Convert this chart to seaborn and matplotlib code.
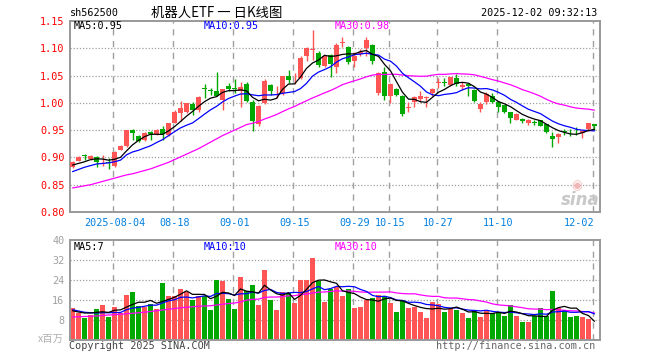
import numpy as np
import pandas as pd
import matplotlib
matplotlib.use("Agg")
import matplotlib.pyplot as plt
import seaborn as sns

# ---------------- data ----------------
open_ = [0.882, 0.894, 0.905, 0.897, 0.901, 0.888, 0.891, 0.884, 0.914, 0.921,
         0.950, 0.940, 0.932, 0.946, 0.943, 0.952, 0.941, 0.964, 0.982, 0.983,
         0.998, 0.986, 1.027, 1.023, 1.022, 1.005, 1.031, 1.027, 1.021, 1.035,
         1.002, 0.961, 0.999, 1.033, 1.019, 1.018, 1.049, 1.041, 1.045, 1.086,
         1.097, 1.092, 1.068, 1.088, 1.065, 1.110, 1.103, 1.076, 1.090, 1.100,
         1.106, 1.018, 1.057, 1.012, 1.025, 1.013, 0.991, 1.001, 1.007, 1.009,
         1.018, 1.037, 1.037, 1.033, 1.045, 1.029, 1.035, 1.024, 0.988, 1.001,
         1.013, 1.001, 0.996, 0.983, 0.969, 0.971, 0.964, 0.965, 0.968, 0.961,
         0.940, 0.938, 0.948, 0.945, 0.945, 0.944, 0.952, 0.961]
high = [0.893, 0.902, 0.907, 0.904, 0.902, 0.904, 0.899, 0.911, 0.922, 0.951,
        0.952, 0.941, 0.946, 0.949, 0.952, 0.958, 0.964, 0.987, 1.003, 1.000,
        1.002, 1.012, 1.035, 1.027, 1.056, 1.026, 1.036, 1.043, 1.039, 1.039,
        1.005, 0.996, 1.043, 1.035, 1.030, 1.050, 1.060, 1.055, 1.085, 1.103,
        1.133, 1.095, 1.088, 1.090, 1.109, 1.120, 1.104, 1.094, 1.098, 1.121,
        1.107, 1.057, 1.065, 1.036, 1.027, 1.014, 1.002, 1.013, 1.021, 1.012,
        1.027, 1.045, 1.045, 1.048, 1.052, 1.039, 1.036, 1.025, 1.001, 1.019,
        1.018, 1.002, 0.996, 0.984, 0.981, 0.972, 0.970, 0.969, 0.969, 0.962,
        0.947, 0.944, 0.952, 0.952, 0.955, 0.950, 0.964, 0.962]
low = [0.880, 0.893, 0.895, 0.896, 0.882, 0.884, 0.879, 0.883, 0.913, 0.920,
       0.932, 0.928, 0.931, 0.932, 0.942, 0.932, 0.940, 0.963, 0.966, 0.982,
       0.978, 0.984, 1.009, 1.014, 1.012, 0.987, 1.021, 1.018, 0.992, 1.002,
       0.948, 0.958, 0.998, 1.015, 1.009, 1.015, 1.036, 1.035, 1.043, 1.076,
       1.079, 1.066, 1.066, 1.047, 1.054, 1.103, 1.071, 1.066, 1.085, 1.085,
       1.072, 1.015, 1.005, 0.999, 1.013, 0.976, 0.983, 0.992, 1.002, 0.992,
       1.013, 1.027, 1.030, 1.030, 1.031, 1.024, 1.013, 1.001, 0.984, 0.998,
       0.999, 0.984, 0.981, 0.964, 0.968, 0.964, 0.960, 0.960, 0.957, 0.945,
       0.919, 0.926, 0.941, 0.940, 0.941, 0.935, 0.949, 0.951]
close = [0.891, 0.900, 0.902, 0.903, 0.891, 0.889, 0.890, 0.910, 0.921, 0.950,
         0.944, 0.931, 0.944, 0.943, 0.950, 0.943, 0.963, 0.983, 0.990, 0.999,
         0.986, 1.010, 1.026, 1.022, 1.013, 1.025, 1.026, 1.026, 1.029, 1.004,
         0.966, 0.994, 1.040, 1.021, 1.020, 1.049, 1.042, 1.042, 1.083, 1.100,
         1.098, 1.069, 1.086, 1.072, 1.106, 1.111, 1.074, 1.085, 1.094, 1.115,
         1.077, 1.055, 1.012, 1.035, 1.015, 0.980, 0.992, 1.010, 1.013, 1.010,
         1.026, 1.038, 1.036, 1.047, 1.035, 1.032, 1.030, 1.004, 0.998, 1.016,
         1.001, 0.993, 0.983, 0.972, 0.980, 0.966, 0.969, 0.964, 0.958, 0.947,
         0.934, 0.943, 0.947, 0.944, 0.944, 0.949, 0.963, 0.957]
volume = [13.0, 10.8, 9.0, 10.1, 12.5, 14.1, 9.4, 13.4, 10.8, 18.1,
          19.4, 13.8, 13.4, 14.5, 12.4, 23.0, 17.8, 17.8, 20.6, 19.1,
          16.0, 17.8, 17.6, 12.1, 24.1, 23.7, 16.5, 12.5, 25.3, 19.7,
          22.2, 14.1, 28.1, 16.1, 12.1, 19.3, 18.8, 14.9, 24.1, 24.1,
          32.8, 23.7, 15.4, 20.4, 21.1, 17.8, 20.5, 13.0, 13.4, 16.1,
          17.0, 18.1, 17.7, 15.0, 11.4, 16.1, 13.0, 13.4, 11.4, 8.9,
          15.4, 14.5, 11.4, 12.5, 12.1, 11.0, 9.0, 12.1, 9.4, 11.7,
          10.8, 11.4, 9.8, 14.1, 9.8, 7.4, 7.4, 9.7, 12.9, 9.7,
          19.7, 12.8, 12.1, 9.4, 9.7, 9.2, 8.5, 0.5]

# moving-average values before a full window exists
ma5_head = [0.886, 0.889, 0.892, 0.896]
ma10_head = [0.874, 0.878, 0.882, 0.885, 0.888, 0.889, 0.890, 0.892, 0.895]
ma30_head = [0.844, 0.846, 0.848, 0.850, 0.853, 0.856, 0.859, 0.862, 0.865, 0.868,
             0.870, 0.873, 0.876, 0.879, 0.883, 0.887, 0.891, 0.896, 0.901, 0.906,
             0.911, 0.916, 0.922, 0.928, 0.934, 0.940, 0.945, 0.950, 0.955]
vol_ma5_head = [11.7, 11.2, 10.8, 10.8]
vol_ma10_head = [12.1, 11.6, 11.1, 10.9, 10.8, 10.9, 10.9, 11.0, 11.0]
vol_ma30_head = [9.2, 9.3, 9.4, 9.5, 9.6, 9.8, 10.0, 10.1, 10.3, 10.5,
                 10.7, 10.9, 11.1, 11.4, 11.7, 12.0, 12.3, 12.6, 12.9, 13.1,
                 13.3, 13.5, 13.6, 13.7, 14.0, 14.3, 14.6, 14.8, 15.2]

tick_idx = [7, 17, 27, 37, 47, 53, 61, 71, 87]
tick_labels = ["2025-08-04", "08-18", "09-01", "09-15", "09-29", "10-15",
               "10-27", "11-10", "12-02"]
price_ticks = [0.80, 0.85, 0.90, 0.95, 1.00, 1.05, 1.10, 1.15]
vol_ticks = [8, 16, 24, 32, 40]

# ---------------- derived tables ----------------
n = len(close)
df = pd.DataFrame({"i": np.arange(n), "open": open_, "high": high, "low": low,
                   "close": close, "volume": volume})


def moving(series, window, head):
    m = series.rolling(window).mean().to_numpy()
    m[:len(head)] = head
    return m


df["ma5"] = moving(df["close"], 5, ma5_head)
df["ma10"] = moving(df["close"], 10, ma10_head)
df["ma30"] = moving(df["close"], 30, ma30_head)
df["vma5"] = moving(df["volume"], 5, vol_ma5_head)
df["vma10"] = moving(df["volume"], 10, vol_ma10_head)
df["vma30"] = moving(df["volume"], 30, vol_ma30_head)

RED = "#FF5555"
GREEN = "#00A800"
df["color"] = np.where(df["close"] >= df["open"], RED, GREEN)

# ---------------- figure ----------------
sns.set_theme(style="white")
plt.rcParams["font.family"] = ["DejaVu Sans Mono", "Noto Sans CJK SC"]

W, H = 660, 360
fig = plt.figure(figsize=(6.6, 3.6), dpi=100)
fig.patch.set_facecolor("white")


def rect(l, t, r, b):
    return [l / W, 1 - b / H, (r - l) / W, (b - t) / H]


ax = fig.add_axes(rect(70, 21, 600, 212))
axv = fig.add_axes(rect(70, 240, 600, 340))

XL = (-0.42, 87.92)
FS = 7.3
GRID = "#A0A0A0"

for a in (ax, axv):
    a.set_facecolor("white")
    a.set_xlim(*XL)
    for s in a.spines.values():
        s.set_color("#999999")
        s.set_linewidth(1.4)
    a.tick_params(length=0)
    for t in tick_idx:
        a.axvline(t - 0.25, color=GRID, lw=1.0, ls=(0, (4.5, 4)), zorder=0)

# main panel grid
ax.set_ylim(0.80, 1.15)
for y in price_ticks[1:-1]:
    ax.axhline(y, color=GRID, lw=0.9, ls=(0, (1, 1.5)), zorder=0)

# candles
bw = 0.72
for _, r in df.iterrows():
    ax.vlines(r["i"], r["low"], r["high"], color=r["color"], lw=1.0, zorder=2)
    body = max(abs(r["close"] - r["open"]), 0.0016)
    ax.bar(r["i"], body, bottom=min(r["open"], r["close"]), width=bw,
           color=r["color"], linewidth=0, zorder=3)

sns.lineplot(data=df, x="i", y="ma30", ax=ax, color="#FF00FF", lw=0.9, zorder=4)
sns.lineplot(data=df, x="i", y="ma10", ax=ax, color="#0000FF", lw=0.9, zorder=5)
sns.lineplot(data=df, x="i", y="ma5", ax=ax, color="#000000", lw=0.9, zorder=6)

ax.set_yticks(price_ticks)
ax.set_yticklabels([f"{v:.2f}" for v in price_ticks], color="#FF0000", fontsize=FS)
ax.tick_params(axis="y", pad=4)
ax.set_xticks(tick_idx)
ax.set_xticklabels(tick_labels, color="#0080E0", fontsize=FS)
ax.tick_params(axis="x", pad=4)
xl = ax.get_xticklabels()
xl[-1].set_horizontalalignment("right")
xl[-1].set_x(tick_idx[-1] + 0.6)
ax.set_xlabel("")
ax.set_ylabel("")

# volume panel
axv.set_ylim(0, 40)
for y in vol_ticks[:-1]:
    axv.axhline(y, color=GRID, lw=0.9, ls=(0, (1, 1.5)), zorder=0)
axv.bar(df["i"], df["volume"], width=0.8, color=df["color"], linewidth=0, zorder=2)
sns.lineplot(data=df, x="i", y="vma30", ax=axv, color="#FF00FF", lw=0.9, zorder=4)
sns.lineplot(data=df, x="i", y="vma10", ax=axv, color="#0000FF", lw=0.9, zorder=5)
sns.lineplot(data=df, x="i", y="vma5", ax=axv, color="#000000", lw=0.9, zorder=6)
axv.set_yticks(vol_ticks)
axv.set_yticklabels([str(v) for v in vol_ticks], color="#A0A0A0", fontsize=FS)
axv.tick_params(axis="y", pad=4)
axv.set_xticks([])
axv.set_xlabel("")
axv.set_ylabel("")

# ---------------- texts ----------------
def ftxt(x, y, s, **kw):
    fig.text(x / W, 1 - y / H, s, va="center", **kw)

ftxt(70, 13, "sh562500", fontsize=FS, color="black", ha="left")
ftxt(217, 13, "机器人ETF 一 日K线图", fontsize=9.6, color="black", ha="center",
     family=["Noto Sans CJK SC", "DejaVu Sans"])
ftxt(597, 13, "2025-12-02 09:32:13", fontsize=FS, color="black", ha="right")

ftxt(74, 26, "MA5:0.95", fontsize=FS, color="black", ha="left")
ftxt(204, 26, "MA10:0.95", fontsize=FS, color="#0000FF", ha="left")
ftxt(335, 26, "MA30:0.98", fontsize=FS, color="#FF00FF", ha="left")

ftxt(74, 246.5, "MA5:7", fontsize=FS, color="black", ha="left")
ftxt(204, 246.5, "MA10:10", fontsize=FS, color="#0000FF", ha="left")
ftxt(335, 246.5, "MA30:10", fontsize=FS, color="#FF00FF", ha="left")

ftxt(64, 339, "x百万", fontsize=7.5, color="#B0B0B0", ha="right",
     family=["Noto Sans CJK SC", "DejaVu Sans"])
ftxt(69, 346, "Copyright 2025 SINA.COM", fontsize=FS, color="#444444", ha="left")
ftxt(595, 346, "http://finance.sina.com.cn", fontsize=FS, color="#666666", ha="right")

# sina watermark
ftxt(580, 200, "sina", fontsize=12, color="#C8C8C8", ha="center",
     family=["DejaVu Sans"], fontweight="bold", style="italic")
ftxt(577, 186, "◉", fontsize=9, color="#F2B8B8", ha="center", family=["DejaVu Sans"])

fig.savefig("out.png", dpi=100, facecolor="white")
